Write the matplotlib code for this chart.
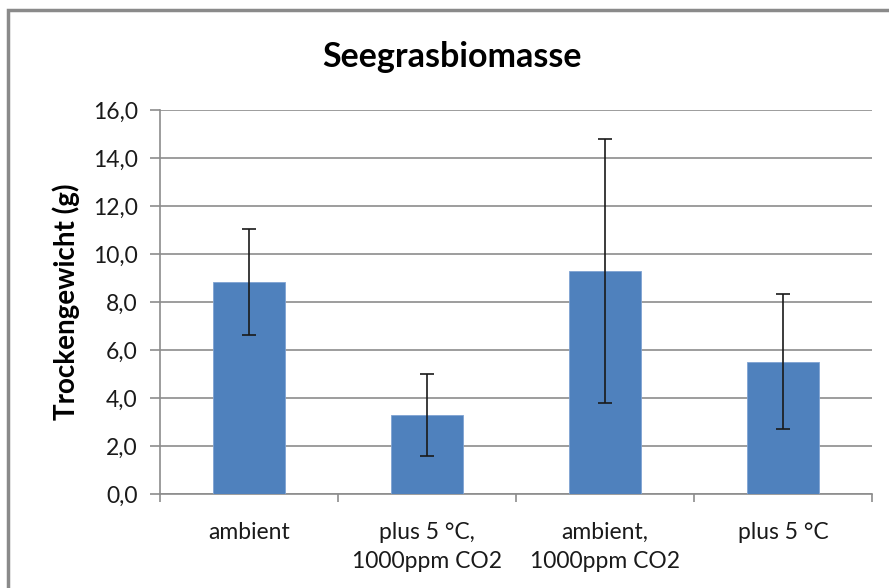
import matplotlib
matplotlib.use("Agg")
import matplotlib.pyplot as plt
from matplotlib.patches import Rectangle
from matplotlib.ticker import FixedLocator, FuncFormatter

plt.rcParams['font.family'] = ['Lato', 'DejaVu Sans']

categories = ["ambient", "plus 5 °C,\n1000ppm CO2", "ambient,\n1000ppm CO2", "plus 5 °C"]
means = [8.83, 3.29, 9.28, 5.52]
errors = [2.21, 1.71, 5.50, 2.80]
y_ticks = [0, 2, 4, 6, 8, 10, 12, 14, 16]

W, H = 889, 588
fig = plt.figure(figsize=(W / 100, H / 100), dpi=100)
ax = fig.add_axes([160 / W, 1 - 494 / H, 712 / W, 384 / H])

x = list(range(len(categories)))
ax.bar(x, means, width=0.4, color="#4F81BD", edgecolor="#7FA3D3", linewidth=0.6, zorder=3)
ax.errorbar(x, means, yerr=errors, fmt="none", ecolor="#1a1a1a", elinewidth=1.2,
            capsize=4.8, capthick=1.2, zorder=4)

ax.set_xlim(-0.5, len(categories) - 0.5)
ax.set_ylim(0, 16)
ax.yaxis.set_major_locator(FixedLocator(y_ticks))
ax.yaxis.set_major_formatter(FuncFormatter(lambda v, p: f"{v:.1f}".replace(".", ",")))
ax.grid(axis="y", color="#8c8c8c", linewidth=1.2, zorder=0)
ax.set_axisbelow(True)

ax.set_xticks(x)
ax.set_xticklabels(categories, fontsize=16.5, color="#1a1a1a", linespacing=1.5)
ax.xaxis.set_minor_locator(FixedLocator([i - 0.5 for i in range(len(categories) + 1)]))
ax.tick_params(axis="x", which="major", length=0, pad=20)
ax.tick_params(axis="x", which="minor", length=6, color="#8c8c8c", width=1.2)
ax.tick_params(axis="y", length=7, color="#8c8c8c", width=1.2, labelsize=16.5,
               labelcolor="#1a1a1a", pad=9)

for side in ("top", "right"):
    ax.spines[side].set_visible(False)
for side in ("left", "bottom"):
    ax.spines[side].set_color("#8c8c8c")
    ax.spines[side].set_linewidth(1.2)

ax.set_ylabel("Trockengewicht (g)", fontsize=20, fontweight="bold", labelpad=9)
fig.text(452 / W, 1 - 57 / H, "Seegrasbiomasse", fontsize=24.5, fontweight="bold",
         ha="center", va="center")

# outer chart frame
fig.patches.append(Rectangle((8 / W, -0.1), 1.2, 1 - 10 / H + 0.1, transform=fig.transFigure,
                             fill=False, edgecolor="#8a8a8a", linewidth=2.5))

fig.savefig("out.png", dpi=100)
